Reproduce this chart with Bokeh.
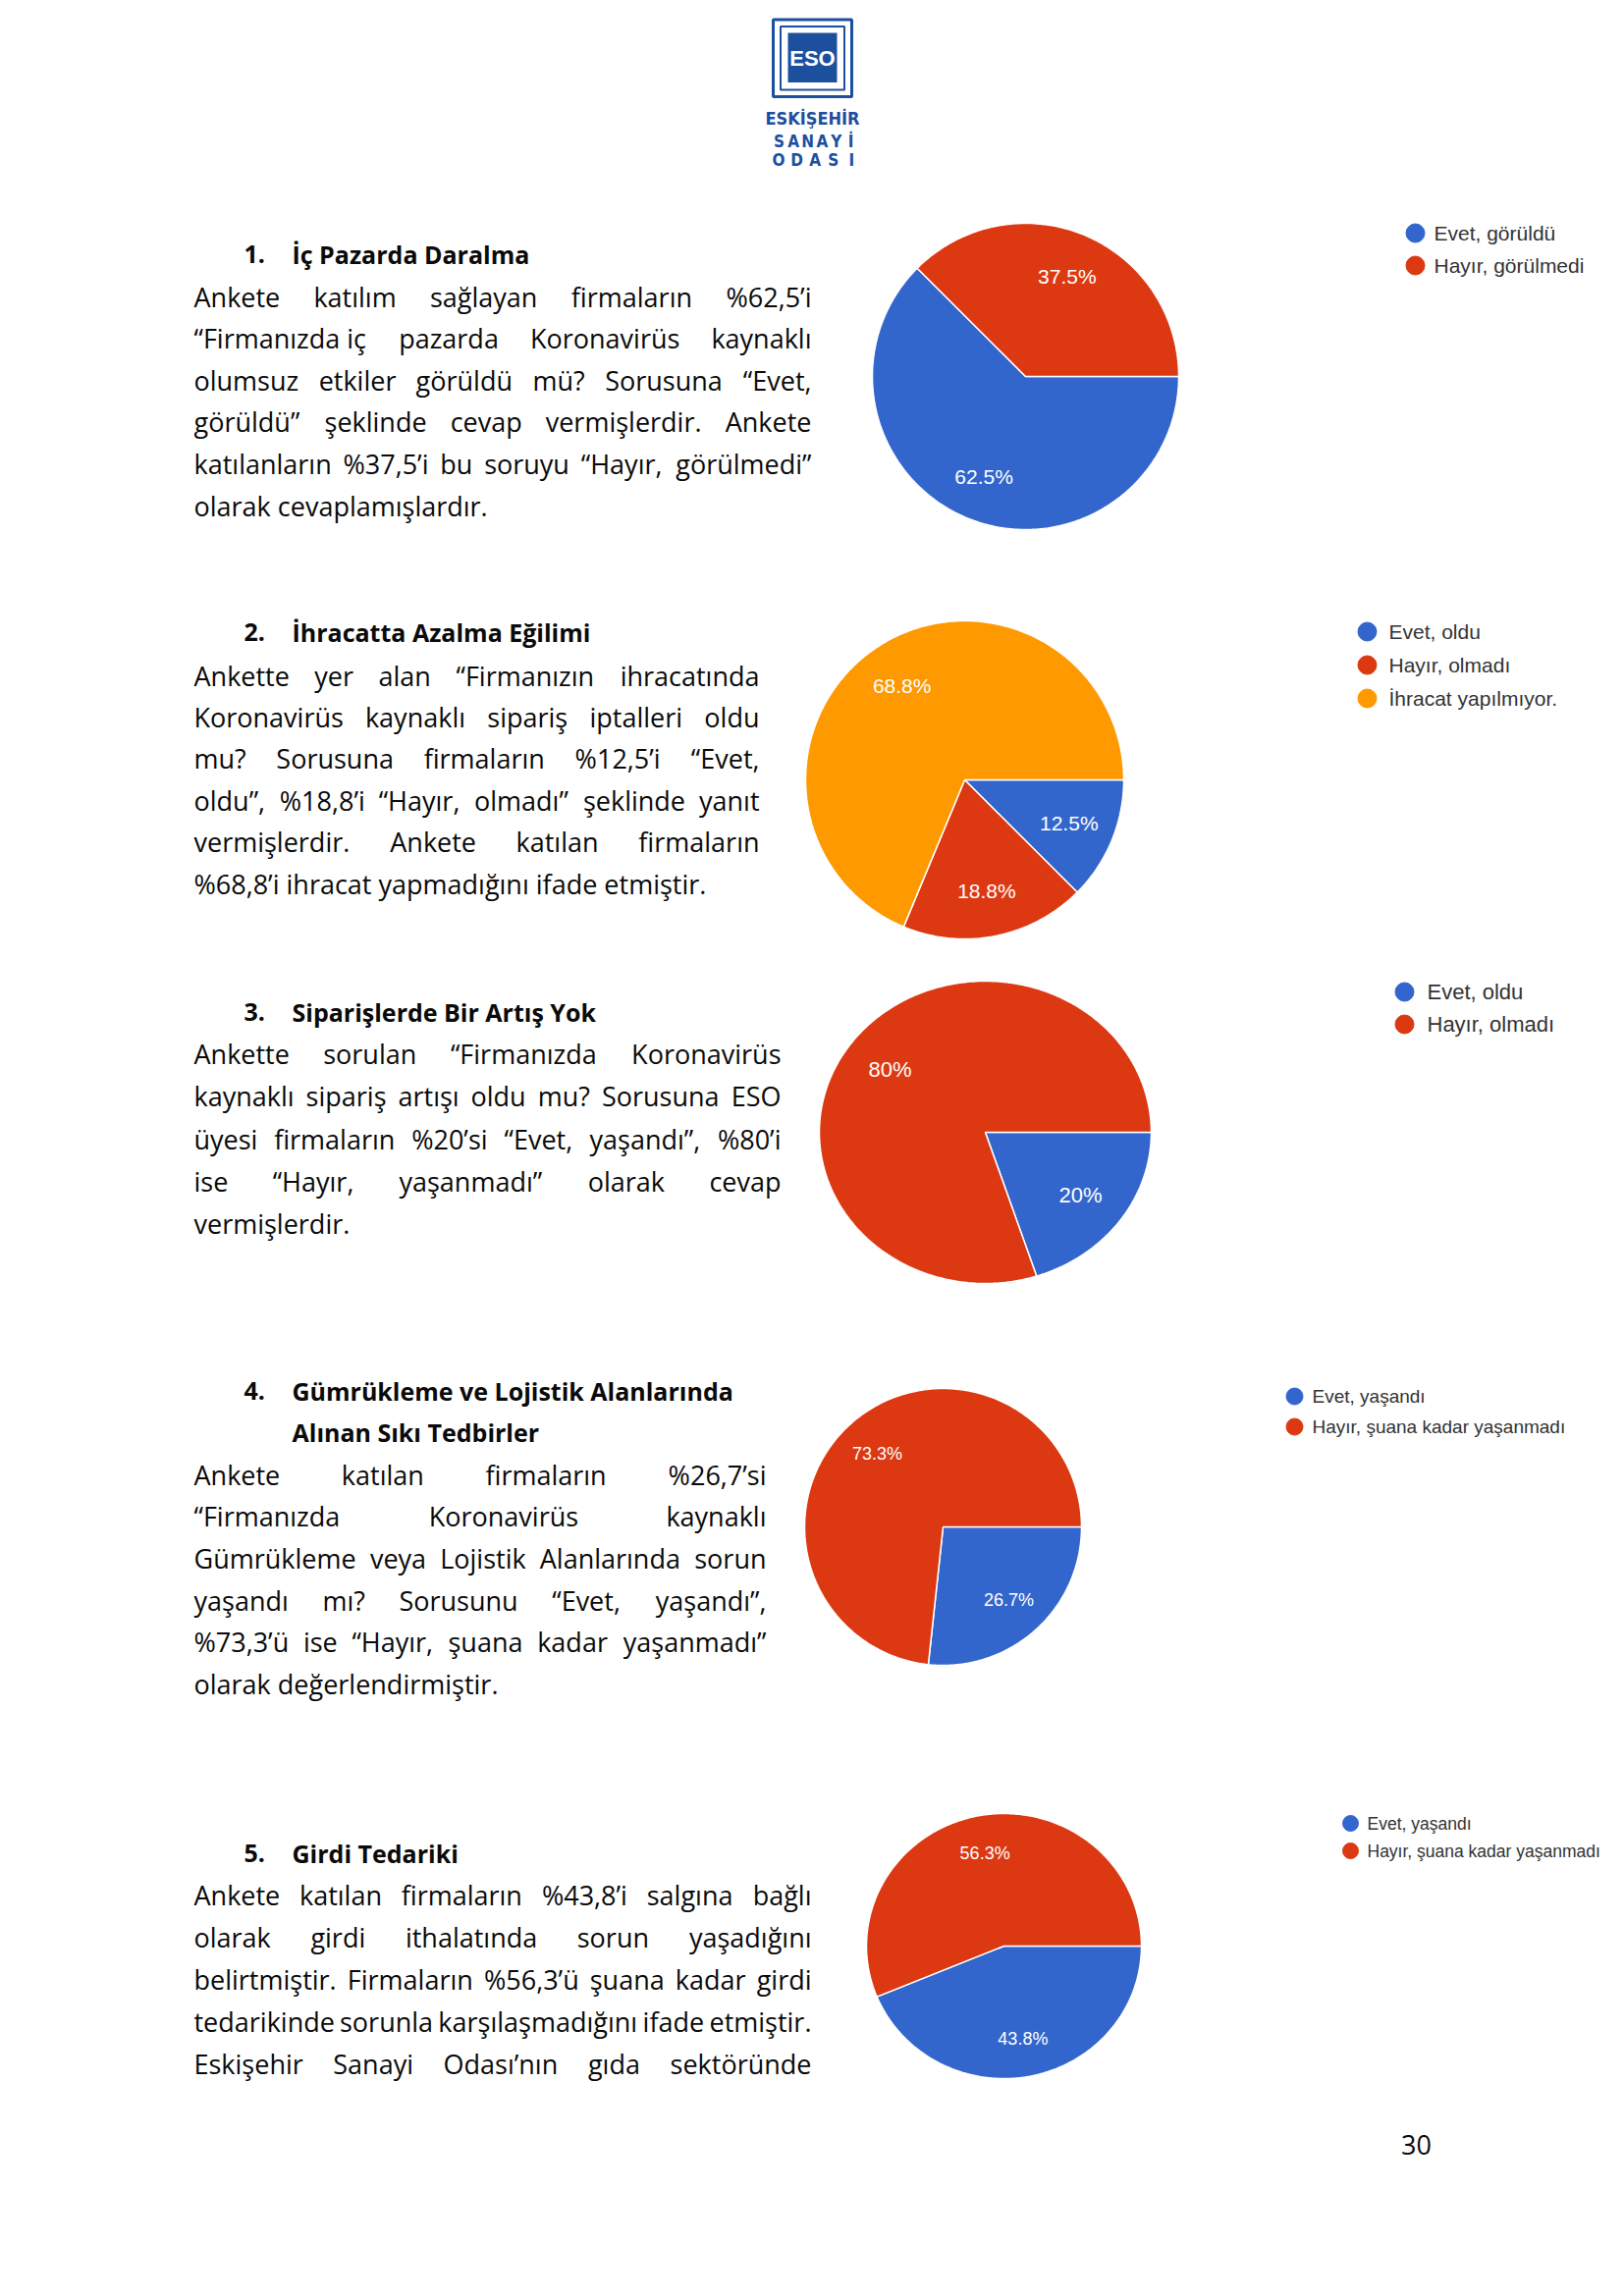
import numpy as np
from bokeh.plotting import figure
from bokeh.models import ColumnDataSource, Range1d
from bokeh.core.properties import value
from bokeh.embed import file_html
from bokeh.resources import INLINE

# ---------------- data ----------------
q1_labels = ["Evet, görüldü", "Hayır, görülmedi"]
q1_values = [62.5, 37.5]
q2_labels = ["Evet, oldu", "Hayır, olmadı", "İhracat yapılmıyor."]
q2_values = [12.5, 18.8, 68.8]
q3_labels = ["Evet, oldu", "Hayır, olmadı"]
q3_values = [20, 80]
q4_labels = ["Evet, yaşandı", "Hayır, şuana kadar yaşanmadı"]
q4_values = [26.7, 73.3]
q5_labels = ["Evet, yaşandı", "Hayır, şuana kadar yaşanmadı"]
q5_values = [43.8, 56.3]

s1_title = ["İç Pazarda Daralma"]
s1_lines = [
    "Ankete katılım sağlayan firmaların %62,5’i",
    "“Firmanızda\u00a0iç pazarda Koronavirüs kaynaklı",
    "olumsuz etkiler görüldü mü? Sorusuna “Evet,",
    "görüldü” şeklinde cevap vermişlerdir. Ankete",
    "katılanların %37,5’i bu soruyu “Hayır, görülmedi”",
    "olarak cevaplamışlardır.",
]
s2_title = ["İhracatta Azalma Eğilimi"]
s2_lines = [
    "Ankette yer alan “Firmanızın ihracatında",
    "Koronavirüs kaynaklı sipariş iptalleri oldu",
    "mu? Sorusuna firmaların %12,5’i “Evet,",
    "oldu”, %18,8’i “Hayır, olmadı” şeklinde yanıt",
    "vermişlerdir. Ankete katılan firmaların",
    "%68,8’i ihracat yapmadığını ifade etmiştir.",
]
s3_title = ["Siparişlerde Bir Artış Yok"]
s3_lines = [
    "Ankette sorulan “Firmanızda Koronavirüs",
    "kaynaklı sipariş artışı oldu mu? Sorusuna ESO",
    "üyesi firmaların %20’si “Evet, yaşandı”, %80’i",
    "ise “Hayır, yaşanmadı” olarak cevap",
    "vermişlerdir.",
]
s4_title = ["Gümrükleme ve Lojistik Alanlarında", "Alınan Sıkı Tedbirler"]
s4_lines = [
    "Ankete katılan firmaların %26,7’si",
    "“Firmanızda Koronavirüs kaynaklı",
    "Gümrükleme veya Lojistik Alanlarında sorun",
    "yaşandı mı? Sorusunu “Evet, yaşandı”,",
    "%73,3’ü ise “Hayır, şuana kadar yaşanmadı”",
    "olarak değerlendirmiştir.",
]
s5_title = ["Girdi Tedariki"]
s5_lines = [
    "Ankete katılan firmaların %43,8’i salgına bağlı",
    "olarak girdi ithalatında sorun yaşadığını",
    "belirtmiştir. Firmaların %56,3’ü şuana kadar girdi",
    "tedarikinde sorunla karşılaşmadığını ifade etmiştir.",
    "Eskişehir Sanayi Odası’nın gıda sektöründe",
]
page_number = "30"

# ---------------- styling ----------------
BLUE, RED, ORANGE = "#3366cc", "#dc3912", "#ff9900"
SLICE_COLORS = [BLUE, RED, ORANGE]
LOGO = "#1d4f9f"
BODY_FONT = "Open Sans"
CHART_FONT = "Liberation Sans"
LOGO_FONT = "DejaVu Sans Condensed, Roboto, sans-serif"
BODY_SIZE = 27
HEAD_SIZE = 25

W, H = 1638, 2323
p = figure(width=W, height=H, x_range=Range1d(0, W), y_range=Range1d(H, 0),
           x_axis_type=None, y_axis_type=None, toolbar_location=None,
           output_backend="svg", min_border=0, outline_line_color=None,
           background_fill_color="white", border_fill_color="white")

groups = {}
def add_text(x, y, t, font, size, align="left", baseline="alphabetic",
             color="#0a0a0a", style="normal"):
    key = (font, size, align, baseline, color, style)
    g = groups.setdefault(key, dict(x=[], y=[], text=[]))
    g["x"].append(x); g["y"].append(y); g["text"].append(t)

# approximate Open Sans advance widths (em)
WID = {' ': .26, '\u00a0': .26, 'a': .556, 'b': .613, 'c': .476, 'ç': .476, 'd': .613, 'e': .561,
       'f': .339, 'g': .548, 'ğ': .548, 'h': .614, 'i': .253, 'ı': .253, 'j': .253, 'k': .525,
       'l': .253, 'm': .930, 'n': .614, 'o': .604, 'ö': .604, 'p': .613, 'q': .613, 'r': .408,
       's': .477, 'ş': .477, 't': .353, 'u': .614, 'ü': .614, 'v': .501, 'w': .778, 'x': .524,
       'y': .502, 'z': .466, 'A': .633, 'B': .648, 'C': .631, 'D': .729, 'E': .556, 'F': .516,
       'G': .728, 'H': .738, 'I': .279, 'İ': .279, 'K': .599, 'L': .522, 'M': .907, 'O': .778,
       'S': .549, 'Ş': .549, 'T': .553, 'Y': .556, 'Ö': .778, '%': .830, ',': .249, '.': .268,
       '?': .430, '’': .175, '“': .384, '”': .384}
def tw(s, size):
    return sum(WID.get(c, .572) for c in s) * size

LEFT = 197
sections = [
    dict(num="1.", title=s1_title, lines=s1_lines, head_y=258, first_y=301.5, dy=42.6, right=826, last_just=False),
    dict(num="2.", title=s2_title, lines=s2_lines, head_y=643, first_y=687.5, dy=42.4, right=773, last_just=False),
    dict(num="3.", title=s3_title, lines=s3_lines, head_y=1030, first_y=1073, dy=43.3, right=795, last_just=False),
    dict(num="4.", title=s4_title, lines=s4_lines, head_y=1416.5, first_y=1501.5, dy=42.7, right=780, last_just=False),
    dict(num="5.", title=s5_title, lines=s5_lines, head_y=1887, first_y=1930, dy=42.9, right=826, last_just=True),
]
for s in sections:
    add_text(248, s["head_y"], s["num"], BODY_FONT, HEAD_SIZE, style="bold")
    for k, t in enumerate(s["title"]):
        add_text(297, s["head_y"] + k * 41.5, t, BODY_FONT, HEAD_SIZE, style="bold")
    n = len(s["lines"])
    for i, line in enumerate(s["lines"]):
        y = s["first_y"] + i * s["dy"]
        justify = (i < n - 1) or s["last_just"]
        words = line.split(" ")
        if not justify or len(words) == 1:
            add_text(LEFT, y, line.replace("\u00a0", " "), BODY_FONT, BODY_SIZE)
            continue
        widths = [tw(w, BODY_SIZE) for w in words]
        gap = (s["right"] - LEFT - sum(widths)) / (len(words) - 1)
        x = LEFT
        for w, wd in zip(words[:-1], widths[:-1]):
            add_text(x, y, w.replace("\u00a0", " "), BODY_FONT, BODY_SIZE)
            x += wd + gap
        add_text(s["right"], y, words[-1], BODY_FONT, BODY_SIZE, align="right")

add_text(1442, 2184, page_number, BODY_FONT, BODY_SIZE, align="center")

# ---------------- pies (elliptical sectors, clockwise from 3 o'clock) ----------------
pies = [
    dict(values=q1_values, labels=q1_labels, cx=1044, cy=383, rx=156, ry=156, lfs=21,
         mx=1441, my=237, mdy=33, tx=1460, tfs=21, ms=19),
    dict(values=q2_values, labels=q2_labels, cx=982, cy=794, rx=162, ry=162, lfs=21,
         mx=1392, my=643, mdy=34, tx=1414, tfs=21, ms=19),
    dict(values=q3_values, labels=q3_labels, cx=1003, cy=1153, rx=169, ry=154, lfs=22,
         mx=1430, my=1010, mdy=33, tx=1453, tfs=22, ms=19),
    dict(values=q4_values, labels=q4_labels, cx=960, cy=1555, rx=141, ry=141, lfs=18,
         mx=1318, my=1422, mdy=31, tx=1336, tfs=19, ms=17),
    dict(values=q5_values, labels=q5_labels, cx=1022, cy=1982, rx=140, ry=135, lfs=18,
         mx=1375, my=1857, mdy=28, tx=1392, tfs=17.5, ms=16),
]
for pc in pies:
    vals = np.asarray(pc["values"], dtype=float)
    frac = vals / vals.sum()
    cum = np.concatenate([[0.0], np.cumsum(frac)])
    start = -2 * np.pi * cum[1:]
    end = -2 * np.pi * cum[:-1]
    n = len(vals)
    cols = SLICE_COLORS[:n]
    xs, ys = [], []
    for a0, a1 in zip(start, end):
        t = np.linspace(a0, a1, max(8, int(abs(a1 - a0) * 60)))
        xs.append(np.concatenate([[pc["cx"]], pc["cx"] + pc["rx"] * np.cos(t)]))
        ys.append(np.concatenate([[pc["cy"]], pc["cy"] - pc["ry"] * np.sin(t)]))
    p.patches(xs="xs", ys="ys", fill_color="color", line_color="white", line_width=1.5,
              source=ColumnDataSource(dict(xs=xs, ys=ys, color=cols)))
    mid = (start + end) / 2
    lx = pc["cx"] + 0.71 * pc["rx"] * np.cos(mid)
    ly = pc["cy"] - 0.71 * pc["ry"] * np.sin(mid)
    for i in range(n):
        add_text(lx[i], ly[i], f"{pc['values'][i]:g}%", CHART_FONT, pc["lfs"],
                 align="center", baseline="middle", color="white")
    lys = [pc["my"] + i * pc["mdy"] for i in range(n)]
    p.scatter(x=[pc["mx"]] * n, y=lys, marker="circle", size=pc["ms"],
              fill_color=cols, line_color=cols)
    for i in range(n):
        add_text(pc["tx"], lys[i], pc["labels"][i], CHART_FONT, pc["tfs"],
                 baseline="middle", color="#333333")

# ---------------- logo ----------------
p.quad(left=787, right=867, top=19.5, bottom=98, fill_color=None, line_color=LOGO, line_width=3)
p.quad(left=794.5, right=859.5, top=26.5, bottom=91, fill_color=None, line_color=LOGO, line_width=2)
p.quad(left=802, right=852, top=33, bottom=83.5, fill_color=LOGO, line_color=None)
add_text(827, 59, "ESO", CHART_FONT, 22, align="center", baseline="middle", color="white", style="bold")
add_text(827, 120, "ESKİŞEHİR", LOGO_FONT, 18, align="center", color=LOGO, style="bold")
for i, ch in enumerate("SANAYİ"):
    add_text(793 + i * 14.6, 143, ch, LOGO_FONT, 17, align="center", color=LOGO, style="bold")
for i, ch in enumerate("ODASI"):
    add_text(792.5 + i * 18.6, 162, ch, LOGO_FONT, 17, align="center", color=LOGO, style="bold")

for (font, size, align, baseline, color, style), g in groups.items():
    p.text(x="x", y="y", text="text", source=ColumnDataSource(g),
           text_font=value(font), text_font_size=f"{size}px", text_align=align,
           text_baseline=baseline, text_color=color, text_font_style=style)

open("out.html", "w").write(file_html(p, INLINE))
